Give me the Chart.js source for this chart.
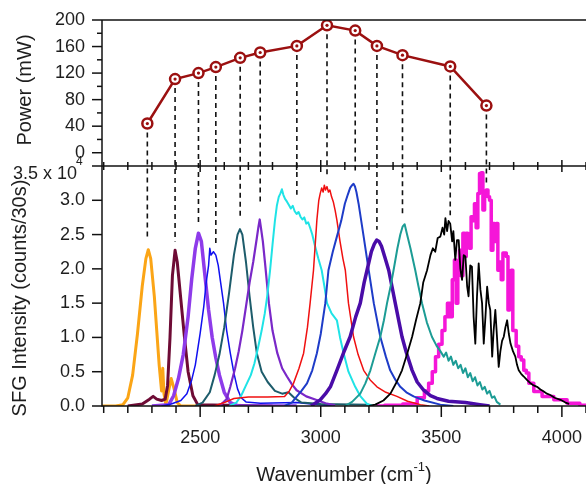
<!DOCTYPE html>
<html>
<head>
<meta charset="utf-8">
<script src="https://cdn.jsdelivr.net/npm/chart.js@4.4.0/dist/chart.umd.min.js"></script>
<style>
  html, body { margin: 0; padding: 0; background: #fff; }
  #wrap { width: 586px; height: 484px; }
</style>
</head>
<body>
<div id="wrap"><canvas id="chart" width="586" height="484"></canvas></div>
<script>
// IR power at each tuning position (top panel)
const powerWn = [2281, 2396, 2493, 2565, 2666, 2749, 2901, 3026, 3143, 3233, 3339, 3537, 3687];
const power = [44, 111, 120, 129, 143, 151, 161, 192, 184, 161, 147, 130, 71];
// where each dashed guide stops in the SFG panel (x 10^4 counts)
const dashEnd = [2.42, 2.4, 2.66, 2.37, 2.76, 2.95, 3.08, 3.37, 3.4, 2.57, 2.78, 2.78, 3.22];

// labelled ticks
const wnTicks = [2500, 3000, 3500, 4000];
const powerTicks = [0, 40, 80, 120, 160, 200];
const sfgTicks = [0, 0.5, 1.0, 1.5, 2.0, 2.5, 3.0];

// SFG spectra, [wavenumber, counts / 10^4]
const sfgOrange = [[2093,0],[2150,0],[2180,0.02],[2200,0.12],[2220,0.45],[2240,1.05],[2260,1.75],[2275,2.15],[2285,2.28],[2295,2.15],[2310,1.6],[2320,1.1],[2330,0.6],[2340,0.22],[2345,0.55],[2350,0.18],[2358,0.02],[2368,0.2],[2380,0.4],[2392,0.25],[2405,0.05],[2420,0],[2650,0]];
const sfgMaroon = [[2200,0],[2260,0.03],[2290,0.1],[2305,0.14],[2320,0.1],[2340,0.08],[2355,0.1],[2365,0.3],[2375,1.0],[2385,1.9],[2396,2.27],[2405,2.1],[2420,1.55],[2435,1.0],[2450,0.5],[2470,0.15],[2490,0.02],[2800,0]];
const sfgPurple = [[2300,0],[2370,0.02],[2390,0.15],[2410,0.4],[2430,0.75],[2450,1.3],[2465,1.85],[2480,2.3],[2493,2.52],[2505,2.4],[2520,1.9],[2535,1.4],[2550,1.0],[2565,0.7],[2580,0.45],[2600,0.2],[2625,0.05],[2660,0],[2900,0]];
const sfgBlue = [[2340,0],[2380,0.03],[2420,0.08],[2445,0.18],[2465,0.38],[2480,0.6],[2500,1.06],[2515,1.45],[2525,1.8],[2535,2.05],[2540,2.3],[2545,2.2],[2555,2.25],[2565,2.2],[2575,2.05],[2585,1.8],[2597,1.5],[2610,1.1],[2625,0.77],[2640,0.48],[2655,0.25],[2670,0.12],[2690,0.06],[2750,0.04],[2900,0.05],[2960,0.03],[3050,0]];
const sfgDarkTeal = [[2480,0],[2510,0.05],[2540,0.2],[2560,0.45],[2580,0.75],[2600,1.15],[2620,1.65],[2640,2.2],[2655,2.5],[2665,2.58],[2675,2.5],[2690,2.1],[2705,1.6],[2720,1.15],[2735,0.77],[2755,0.5],[2780,0.35],[2810,0.22],[2840,0.18],[2866,0.2],[2890,0.12],[2920,0.05],[3000,0.03],[3200,0.02]];
const sfgViolet = [[2580,0],[2610,0.1],[2625,0.28],[2645,0.55],[2660,0.8],[2675,1.1],[2690,1.45],[2705,1.8],[2720,2.1],[2735,2.45],[2742,2.62],[2747,2.72],[2752,2.6],[2760,2.4],[2770,2.05],[2785,1.5],[2800,1.1],[2820,0.77],[2840,0.55],[2860,0.43],[2880,0.32],[2900,0.23],[2940,0.14],[2980,0.09],[3020,0.04],[3060,0.01]];
const sfgCyan = [[2620,0],[2650,0.05],[2670,0.15],[2690,0.3],[2710,0.45],[2725,0.62],[2740,0.85],[2755,1.1],[2768,1.35],[2778,1.6],[2790,1.98],[2800,2.35],[2810,2.7],[2818,2.92],[2826,3.05],[2833,3.1],[2839,3.16],[2845,3.08],[2852,3.02],[2860,2.98],[2868,2.93],[2876,2.88],[2884,2.92],[2892,2.84],[2900,2.8],[2908,2.83],[2916,2.76],[2924,2.72],[2932,2.75],[2940,2.66],[2948,2.68],[2956,2.6],[2965,2.5],[2975,2.35],[2990,2.15],[3004,1.98],[3015,1.75],[3026,1.5],[3045,1.35],[3067,1.25],[3080,1.0],[3095,0.77],[3115,0.5],[3143,0.28],[3165,0.14],[3192,0.03],[3220,0]];
const sfgRed = [[2560,0],[2600,0.05],[2640,0.11],[2700,0.13],[2780,0.13],[2850,0.14],[2870,0.22],[2887,0.33],[2910,0.55],[2929,0.77],[2945,1.15],[2956,1.5],[2970,1.98],[2984,2.71],[2992,3.0],[2998,3.1],[3004,3.18],[3010,3.12],[3015,3.22],[3020,3.15],[3026,3.2],[3032,3.12],[3038,3.15],[3045,3.05],[3052,2.98],[3060,2.85],[3067,2.71],[3080,2.4],[3092,2.15],[3102,1.98],[3115,1.5],[3136,1.01],[3155,0.75],[3178,0.52],[3205,0.38],[3233,0.28],[3270,0.2],[3316,0.14],[3360,0.07],[3413,0.02],[3450,0]];
const sfgRoyal = [[2850,0],[2880,0.05],[2901,0.14],[2920,0.22],[2943,0.33],[2965,0.52],[2984,0.77],[3000,1.05],[3019,1.5],[3032,1.98],[3050,2.25],[3067,2.47],[3085,2.7],[3100,2.95],[3112,3.08],[3122,3.18],[3130,3.22],[3136,3.24],[3142,3.2],[3148,3.12],[3157,2.95],[3178,2.47],[3199,1.98],[3220,1.5],[3247,1.01],[3270,0.72],[3288,0.52],[3310,0.38],[3330,0.28],[3355,0.2],[3385,0.14],[3430,0.08],[3496,0.02],[3550,0]];
const sfgIndigo = [[2960,0],[2998,0.09],[3020,0.18],[3040,0.28],[3067,0.52],[3095,0.78],[3122,1.01],[3145,1.3],[3164,1.5],[3180,1.8],[3192,1.98],[3210,2.25],[3222,2.36],[3232,2.42],[3242,2.4],[3252,2.33],[3265,2.18],[3282,1.98],[3295,1.75],[3309,1.5],[3325,1.22],[3337,1.01],[3355,0.78],[3379,0.52],[3400,0.35],[3427,0.23],[3455,0.15],[3482,0.11],[3530,0.07],[3600,0.05],[3660,0.02],[3700,0]];
const sfgTeal = [[3100,0],[3130,0.06],[3164,0.18],[3185,0.33],[3206,0.52],[3225,0.75],[3247,1.01],[3262,1.25],[3275,1.5],[3290,1.75],[3302,1.98],[3318,2.3],[3330,2.5],[3340,2.62],[3348,2.65],[3358,2.5],[3372,2.3],[3392,1.98],[3405,1.75],[3420,1.5],[3440,1.22],[3461,1.01],[3480,0.88],[3496,0.8],[3510,0.72],[3520,0.78],[3530,0.66],[3540,0.72],[3550,0.6],[3560,0.66],[3570,0.55],[3580,0.6],[3590,0.48],[3600,0.55],[3610,0.42],[3620,0.48],[3630,0.36],[3640,0.42],[3650,0.3],[3660,0.35],[3670,0.24],[3680,0.28],[3690,0.18],[3700,0.22],[3710,0.12],[3720,0.14],[3730,0.06],[3745,0.02]];
const sfgBlack = [[3200,0],[3226,0.02],[3260,0.08],[3289,0.18],[3315,0.35],[3337,0.52],[3360,0.78],[3379,1.01],[3395,1.25],[3413,1.5],[3425,1.8],[3441,1.98],[3455,2.2],[3465,2.3],[3475,2.25],[3485,2.45],[3496,2.47],[3505,2.6],[3512,2.5],[3517,2.74],[3524,2.55],[3530,2.7],[3537,2.66],[3545,2.4],[3550,2.55],[3558,2.13],[3565,2.42],[3572,2.42],[3579,2.0],[3586,1.84],[3593,2.2],[3600,2.18],[3607,1.75],[3613,1.6],[3620,2.05],[3627,2.03],[3634,1.3],[3641,0.91],[3648,1.6],[3655,2.08],[3662,1.7],[3669,1.5],[3676,0.91],[3683,1.3],[3690,1.74],[3697,1.5],[3703,1.4],[3711,0.72],[3717,1.1],[3724,1.4],[3731,1.0],[3738,0.57],[3745,0.8],[3752,0.95],[3759,1.01],[3766,1.15],[3773,1.25],[3780,1.05],[3787,0.91],[3797,0.8],[3807,0.72],[3814,0.6],[3821,0.52],[3831,0.47],[3842,0.43],[3855,0.38],[3870,0.33],[3883,0.3],[3897,0.28],[3911,0.24],[3925,0.21],[3938,0.18],[3952,0.16],[3970,0.12],[3994,0.09],[4015,0.05],[4030,0.03]];
const sfgMagenta = [[3230,0],[3300,0.01],[3380,0.03],[3420,0.12],[3440,0.22],[3455,0.33],[3470,0.5],[3482,0.72],[3496,0.9],[3510,1.1],[3520,1.3],[3531,1.5],[3540,1.3],[3551,1.84],[3558,2.13],[3565,1.5],[3572,2.08],[3579,2.27],[3586,1.9],[3593,2.52],[3600,2.18],[3607,2.52],[3613,2.47],[3620,2.3],[3627,2.76],[3634,2.7],[3641,2.95],[3648,2.6],[3655,3.1],[3662,3.39],[3669,3.4],[3676,2.86],[3683,3.1],[3690,3.15],[3697,3.05],[3703,3.0],[3711,2.27],[3717,2.66],[3724,2.4],[3731,2.66],[3738,1.98],[3745,2.1],[3752,1.84],[3759,2.23],[3766,2.23],[3773,2.18],[3780,1.4],[3787,1.6],[3793,1.98],[3800,1.1],[3807,1.1],[3814,0.87],[3828,0.72],[3835,0.67],[3849,0.52],[3856,0.48],[3870,0.33],[3897,0.21],[3939,0.14],[3994,0.09],[4049,0.04],[4100,0.01]];

const FONT = "'Liberation Sans', Arial, sans-serif";
const INK = "#1e1e1e";
const POWER_RED = "#9b1010";

const pts = pairs => pairs.map(p => ({ x: p[0], y: p[1] }));

// drawing order: first entry ends up on top
const spectra = [
  [sfgBlack, "#000000", 1.8, false],
  [sfgTeal, "#1c9c95", 2, false],
  [sfgIndigo, "#4a0ca8", 3.5, false],
  [sfgRoyal, "#1e3cc8", 2, false],
  [sfgRed, "#f01010", 1.5, false],
  [sfgCyan, "#1fe3e6", 2, false],
  [sfgViolet, "#7a28c8", 2.2, false],
  [sfgDarkTeal, "#1d5c6b", 2, false],
  [sfgBlue, "#1010f0", 1.5, false],
  [sfgPurple, "#8e3bea", 3.5, false],
  [sfgMaroon, "#6e0b35", 3, false],
  [sfgOrange, "#fba516", 3, false],
  [sfgMagenta, "#f516d8", 3.5, "middle"]
];

const powerPts = powerWn.map((wn, i) => ({ x: wn, y: power[i] }));

const datasets = [
  { data: powerPts, yAxisID: "yPower", showLine: false, pointRadius: 1.6,
    pointBackgroundColor: POWER_RED, pointBorderWidth: 0 },
  { data: powerPts, yAxisID: "yPower", borderColor: POWER_RED, borderWidth: 2.5,
    pointRadius: 5, pointBorderWidth: 2.5, pointBorderColor: POWER_RED,
    pointBackgroundColor: "#ffffff" }
];
spectra.forEach(([pairs, color, width, stepped]) => {
  datasets.push({
    data: pts(pairs), yAxisID: "ySFG", borderColor: color, borderWidth: width,
    pointRadius: 0, stepped: stepped, borderJoinStyle: "round"
  });
});

function seg(ctx, x1, y1, x2, y2) {
  ctx.beginPath();
  ctx.moveTo(x1, y1);
  ctx.lineTo(x2, y2);
  ctx.stroke();
}

const fixTicks = values => scale => { scale.ticks = values.map(v => ({ value: v })); };

// pin the axis boxes so the plot area lands where the original has it
const pinBox = (w, h) => s => {
  if (w !== null) s.width = w;
  if (h !== null) s.height = h;
  s.paddingLeft = 0; s.paddingRight = 0; s.paddingTop = 0; s.paddingBottom = 0;
};

const panelFrame = {
  id: "panelFrame",
  beforeDatasetsDraw(chart) {
    // dashed guides from each power point down to its spectrum
    const { ctx, scales: { x, yPower, ySFG } } = chart;
    ctx.save();
    ctx.strokeStyle = "#111";
    ctx.lineWidth = 1.6;
    ctx.setLineDash([5, 4]);
    powerWn.forEach((wn, i) => {
      const px = x.getPixelForValue(wn);
      seg(ctx, px, yPower.getPixelForValue(power[i]), px, ySFG.getPixelForValue(dashEnd[i]));
    });
    ctx.restore();
  },
  afterDraw(chart) {
    const { ctx, chartArea: a, scales: { x, yPower, ySFG } } = chart;
    const sep = ySFG.top;
    ctx.save();
    ctx.strokeStyle = "#111";
    ctx.lineWidth = 1.5;
    seg(ctx, a.left, a.top, a.right, a.top);
    seg(ctx, a.left, sep, a.right, sep);
    seg(ctx, a.left, a.bottom, a.right, a.bottom);
    seg(ctx, a.left, a.top, a.left, a.bottom + 0.75);

    // minor + major tick marks
    for (let v = 2100; v <= x.max; v += 100) {
      const px = x.getPixelForValue(v);
      const major = v % 500 === 0;
      seg(ctx, px, a.bottom, px, a.bottom + (major ? 11 : 7));
      seg(ctx, px, sep - (major ? 6 : 4), px, sep + (major ? 6 : 4));
    }
    for (let v = 0; v <= 200; v += 20) {
      const py = yPower.getPixelForValue(v);
      seg(ctx, a.left - (v % 40 === 0 ? 10 : 5), py, a.left, py);
    }
    for (let v = 0; v <= 3.5; v += 0.5) {
      const py = ySFG.getPixelForValue(v);
      seg(ctx, a.left - 10, py, a.left, py);
    }

    ctx.fillStyle = INK;
    // top label of the SFG axis with its exponent
    ctx.font = "18px " + FONT;
    ctx.textAlign = "right";
    ctx.textBaseline = "middle";
    ctx.fillText("3.5 x 10", 77, sep + 8);
    ctx.font = "12px " + FONT;
    ctx.textAlign = "left";
    ctx.fillText("4", 76, sep - 4);

    // y titles
    ctx.font = "20px " + FONT;
    ctx.textAlign = "center";
    ctx.textBaseline = "alphabetic";
    ctx.save();
    ctx.translate(31, (yPower.top + yPower.bottom) / 2 - 3);
    ctx.rotate(-Math.PI / 2);
    ctx.fillText("Power (mW)", 0, 0);
    ctx.restore();
    ctx.save();
    ctx.translate(26, (ySFG.top + ySFG.bottom) / 2 + 12);
    ctx.rotate(-Math.PI / 2);
    ctx.fillText("SFG Intensity (counts/30s)", 0, 0);
    ctx.restore();

    // x title with superscript
    const main = "Wavenumber (cm", sup = "-1", tail = ")";
    ctx.font = "20px " + FONT;
    const wMain = ctx.measureText(main).width, wTail = ctx.measureText(tail).width;
    ctx.font = "13px " + FONT;
    const wSup = ctx.measureText(sup).width;
    let tx = (a.left + a.right) / 2 - (wMain + wSup + wTail) / 2;
    const base = 481;
    ctx.textAlign = "left";
    ctx.font = "20px " + FONT;
    ctx.fillText(main, tx, base);
    tx += wMain;
    ctx.font = "13px " + FONT;
    ctx.fillText(sup, tx, base - 10);
    tx += wSup;
    ctx.font = "20px " + FONT;
    ctx.fillText(tail, tx, base);
    ctx.restore();
  }
};

const tickFont = { family: FONT, size: 18 };

new Chart(document.getElementById("chart"), {
  type: "line",
  data: { datasets },
  options: {
    responsive: false,
    animation: false,
    devicePixelRatio: 1,
    layout: { autoPadding: false, padding: { top: 20, left: 0, right: 0, bottom: 0 } },
    plugins: { legend: { display: false }, tooltip: { enabled: false } },
    elements: { line: { tension: 0 } },
    scales: {
      x: {
        type: "linear", min: 2093, max: 4100, position: "bottom",
        grid: { display: false, drawTicks: false }, border: { display: false },
        afterBuildTicks: fixTicks(wnTicks),
        ticks: { autoSkip: false, padding: 21, color: INK, font: tickFont,
                 maxRotation: 0, callback: v => String(v) },
        afterFit: pinBox(null, 78)
      },
      ySFG: {
        type: "linear", position: "left", stack: "panels", stackWeight: 240,
        min: 0, max: 3.5,
        grid: { display: false, drawTicks: false }, border: { display: false },
        afterBuildTicks: fixTicks(sfgTicks),
        ticks: { autoSkip: false, padding: 17, color: INK, font: tickFont,
                 callback: v => v.toFixed(1) },
        afterFit: pinBox(102, null)
      },
      yPower: {
        type: "linear", position: "left", stack: "panels", stackWeight: 146,
        min: -20, max: 200,
        grid: { display: false, drawTicks: false }, border: { display: false },
        afterBuildTicks: fixTicks(powerTicks),
        ticks: { autoSkip: false, padding: 17, color: INK, font: tickFont,
                 callback: v => String(v) },
        afterFit: pinBox(102, null)
      }
    }
  },
  plugins: [panelFrame]
});
</script>
</body>
</html>
